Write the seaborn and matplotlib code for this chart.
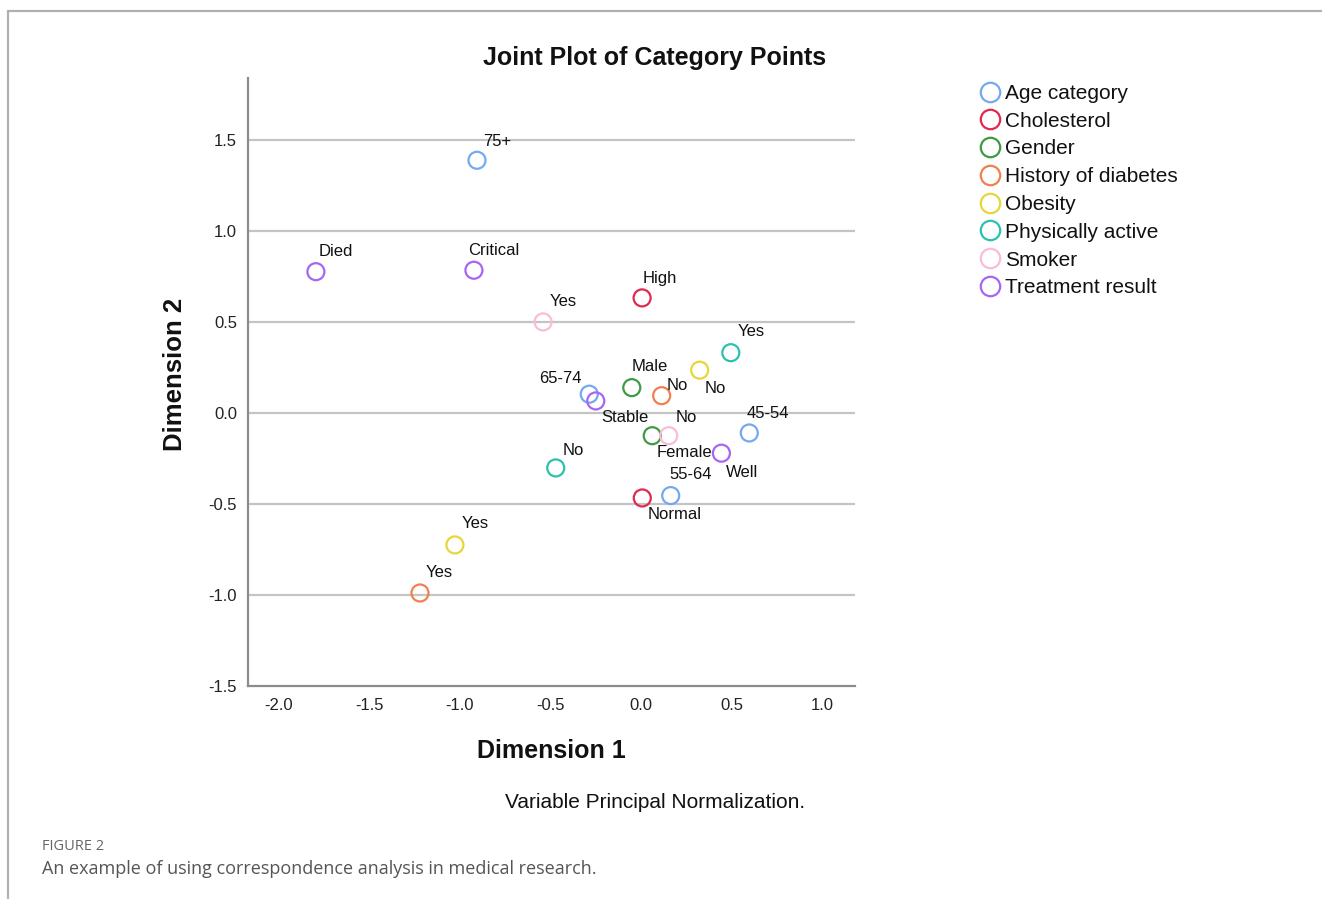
import matplotlib
matplotlib.use("Agg")
import matplotlib.pyplot as plt
from matplotlib.lines import Line2D
import pandas as pd
import seaborn as sns

# Category points on the first two dimensions
variables = [
    "Age category", "Age category", "Age category", "Age category",
    "Cholesterol", "Cholesterol",
    "Gender", "Gender",
    "History of diabetes", "History of diabetes",
    "Obesity", "Obesity",
    "Physically active", "Physically active",
    "Smoker", "Smoker",
    "Treatment result", "Treatment result", "Treatment result", "Treatment result",
]
categories = [
    "75+", "65-74", "55-64", "45-54",
    "High", "Normal",
    "Male", "Female",
    "Yes", "No",
    "Yes", "No",
    "Yes", "No",
    "Yes", "No",
    "Died", "Critical", "Stable", "Well",
]
dim1 = [
    -0.906, -0.286, 0.164, 0.598,
    0.006, 0.007,
    -0.051, 0.062,
    -1.221, 0.114,
    -1.028, 0.324,
    0.496, -0.471,
    -0.541, 0.153,
    -1.796, -0.923, -0.250, 0.444,
]
dim2 = [
    1.388, 0.103, -0.454, -0.110,
    0.632, -0.467,
    0.139, -0.125,
    -0.989, 0.095,
    -0.725, 0.235,
    0.331, -0.302,
    0.500, -0.125,
    0.776, 0.784, 0.066, -0.221,
]
legend_order = [
    "Age category", "Cholesterol", "Gender", "History of diabetes",
    "Obesity", "Physically active", "Smoker", "Treatment result",
]
x_ticks = [-2.0, -1.5, -1.0, -0.5, 0.0, 0.5, 1.0]
y_ticks = [-1.5, -1.0, -0.5, 0.0, 0.5, 1.0, 1.5]

palette = {
    "Age category": "#74A9F2",
    "Cholesterol": "#E0294F",
    "Gender": "#3E9A45",
    "History of diabetes": "#F2804E",
    "Obesity": "#E6D63A",
    "Physically active": "#2CC1AE",
    "Smoker": "#F9BCD9",
    "Treatment result": "#A865F5",
}

# label offsets (pixels right / down from each point)
label_offsets = [
    (20, -19), (-29, -16), (20, -21), (19, -19),
    (18, -19), (32, 17),
    (18, -21), (32, 17),
    (19, -20), (16, -10),
    (20, -21), (16, 18),
    (20, -21), (18, -17),
    (20, -20), (18, -18),
    (20, -20), (20, -20), (29, 17), (21, 19),
]

df = pd.DataFrame({"Variable": variables, "Category": categories,
                   "Dimension 1": dim1, "Dimension 2": dim2})

sns.set_style("white")
plt.rcParams["font.family"] = ["Liberation Sans", "DejaVu Sans"]

W, H = 1322, 899
fig = plt.figure(figsize=(W / 100, H / 100), dpi=100)
ax = fig.add_axes([248 / W, 1 - 686 / H, (855 - 248) / W, (686 - 78) / H])

sns.scatterplot(data=df, x="Dimension 1", y="Dimension 2", hue="Variable",
                hue_order=legend_order, palette=palette, s=150,
                linewidth=1.6, legend=False, ax=ax, zorder=3)
coll = ax.collections[0]
coll.set_edgecolors(coll.get_facecolors())
coll.set_facecolors("none")

px2pt = 0.72
for cat, x, y, (dx, dy) in zip(categories, dim1, dim2, label_offsets):
    ax.annotate(cat, (x, y), xytext=(dx * px2pt, -dy * px2pt),
                textcoords="offset points", ha="center", va="center",
                fontsize=12, color="#111111", zorder=4)

ax.set_xlim(-2.171, 1.182)
ax.set_ylim(-1.5, 1.84)
ax.set_xticks(x_ticks)
ax.set_yticks(y_ticks)
ax.set_xticklabels([f"{t:.1f}" for t in x_ticks])
ax.set_yticklabels([f"{t:.1f}" for t in y_ticks])
ax.tick_params(axis="both", length=0, labelsize=12, colors="#222222")
ax.tick_params(axis="x", pad=9)
ax.tick_params(axis="y", pad=8)

for t in y_ticks[1:]:
    ax.axhline(t, color="#C4C4C4", lw=1.6, zorder=1)

for side in ["top", "right"]:
    ax.spines[side].set_visible(False)
for side in ["left", "bottom"]:
    ax.spines[side].set_color("#8C8C8C")
    ax.spines[side].set_linewidth(1.6)
    ax.spines[side].set_zorder(2)

ax.set_xlabel("")
ax.set_ylabel("")
fig.text(551 / W, 1 - 751 / H, "Dimension 1", ha="center", va="center",
         fontsize=18, fontweight="bold", color="#111111")
fig.text(175 / W, 1 - 374 / H, "Dimension 2", ha="center", va="center",
         rotation=90, fontsize=18.5, fontweight="bold", color="#111111")
fig.text(655 / W, 1 - 58 / H, "Joint Plot of Category Points", ha="center",
         va="center", fontsize=18, fontweight="bold", color="#111111")
fig.text(655 / W, 1 - 802 / H, "Variable Principal Normalization.",
         ha="center", va="center", fontsize=15, color="#111111")

handles = [Line2D([], [], linestyle="none", marker="o", markersize=14,
                  markerfacecolor="none", markeredgecolor=palette[v],
                  markeredgewidth=1.6) for v in legend_order]
leg = fig.legend(handles, legend_order, loc="upper left",
                 bbox_to_anchor=(980 / W, 1 - 84 / H), frameon=False,
                 fontsize=15, handlelength=1.0, handletextpad=0.2,
                 labelspacing=0.42, borderaxespad=0, borderpad=0)
for txt in leg.get_texts():
    txt.set_color("#111111")

# page frame and figure caption
fig.add_artist(Line2D([8 / W, 1], [1 - 11 / H, 1 - 11 / H], color="#B0B0B0", lw=1.6))
fig.add_artist(Line2D([8 / W, 8 / W], [0, 1 - 11 / H], color="#B0B0B0", lw=1.6))
fig.text(42 / W, 1 - 846 / H, "FIGURE 2", ha="left", va="center",
         fontsize=10.5, color="#666666", family=["Open Sans", "DejaVu Sans"])
fig.text(42 / W, 1 - 869 / H,
         "An example of using correspondence analysis in medical research.",
         ha="left", va="center", fontsize=13, color="#555555",
         family=["Open Sans", "DejaVu Sans"])

fig.savefig("out.png", dpi=100, facecolor="white")
